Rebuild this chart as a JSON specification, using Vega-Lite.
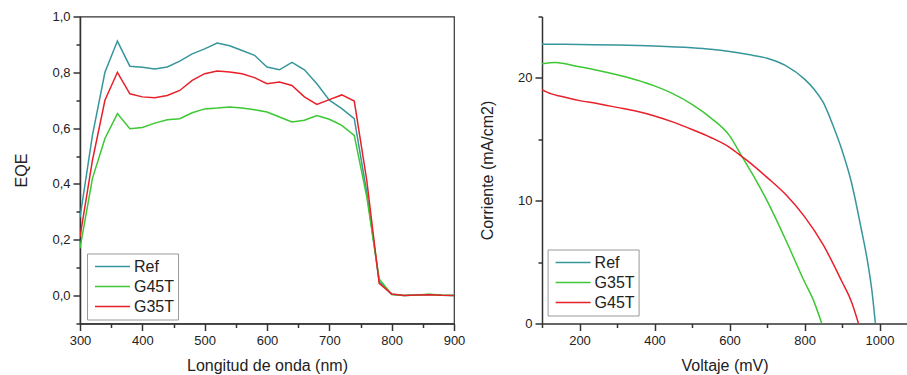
{
  "$schema": "https://vega.github.io/schema/vega-lite/v6.json",
  "autosize": {"type": "pad"},
  "padding": {"left": 13, "top": 9.5, "right": 0, "bottom": 0},
  "background": "white",
  "spacing": 88,
  "bounds": "flush",
  "datasets": {
    "eqe": [
      {"wl": 300, "Ref": 0.28, "G45T": 0.17, "G35T": 0.21},
      {"wl": 320, "Ref": 0.575, "G45T": 0.42, "G35T": 0.485},
      {"wl": 340, "Ref": 0.80, "G45T": 0.563, "G35T": 0.70},
      {"wl": 360, "Ref": 0.912, "G45T": 0.652, "G35T": 0.80},
      {"wl": 380, "Ref": 0.822, "G45T": 0.598, "G35T": 0.723},
      {"wl": 400, "Ref": 0.818, "G45T": 0.602, "G35T": 0.712},
      {"wl": 420, "Ref": 0.812, "G45T": 0.618, "G35T": 0.709},
      {"wl": 440, "Ref": 0.819, "G45T": 0.63, "G35T": 0.717},
      {"wl": 460, "Ref": 0.84, "G45T": 0.634, "G35T": 0.735},
      {"wl": 480, "Ref": 0.866, "G45T": 0.655, "G35T": 0.771},
      {"wl": 500, "Ref": 0.884, "G45T": 0.669, "G35T": 0.795},
      {"wl": 520, "Ref": 0.905, "G45T": 0.672, "G35T": 0.805},
      {"wl": 540, "Ref": 0.895, "G45T": 0.676, "G35T": 0.801},
      {"wl": 560, "Ref": 0.878, "G45T": 0.672, "G35T": 0.795},
      {"wl": 580, "Ref": 0.861, "G45T": 0.666, "G35T": 0.781},
      {"wl": 600, "Ref": 0.819, "G45T": 0.658, "G35T": 0.759},
      {"wl": 620, "Ref": 0.809, "G45T": 0.64, "G35T": 0.765},
      {"wl": 640, "Ref": 0.836, "G45T": 0.622, "G35T": 0.753},
      {"wl": 660, "Ref": 0.809, "G45T": 0.628, "G35T": 0.712},
      {"wl": 680, "Ref": 0.759, "G45T": 0.645, "G35T": 0.685},
      {"wl": 700, "Ref": 0.70, "G45T": 0.632, "G35T": 0.702},
      {"wl": 720, "Ref": 0.67, "G45T": 0.61, "G35T": 0.719},
      {"wl": 740, "Ref": 0.634, "G45T": 0.574, "G35T": 0.697},
      {"wl": 760, "Ref": 0.37, "G45T": 0.355, "G35T": 0.414},
      {"wl": 780, "Ref": 0.05, "G45T": 0.06, "G35T": 0.044},
      {"wl": 800, "Ref": 0.005, "G45T": 0.004, "G35T": 0.006},
      {"wl": 820, "Ref": 0.0, "G45T": 0.0, "G35T": 0.0},
      {"wl": 840, "Ref": 0.002, "G45T": 0.002, "G35T": 0.002},
      {"wl": 860, "Ref": 0.004, "G45T": 0.005, "G35T": 0.003},
      {"wl": 880, "Ref": 0.001, "G45T": 0.002, "G35T": 0.001},
      {"wl": 900, "Ref": 0.0, "G45T": 0.0, "G35T": 0.0}
    ],
    "jv": [
      {"s": "Ref", "v": 100, "j": 22.75},
      {"s": "Ref", "v": 200, "j": 22.72},
      {"s": "Ref", "v": 300, "j": 22.68},
      {"s": "Ref", "v": 400, "j": 22.6},
      {"s": "Ref", "v": 500, "j": 22.45},
      {"s": "Ref", "v": 550, "j": 22.33},
      {"s": "Ref", "v": 600, "j": 22.15},
      {"s": "Ref", "v": 650, "j": 21.9},
      {"s": "Ref", "v": 700, "j": 21.6},
      {"s": "Ref", "v": 750, "j": 21.0},
      {"s": "Ref", "v": 800, "j": 19.9},
      {"s": "Ref", "v": 825, "j": 19.1},
      {"s": "Ref", "v": 850, "j": 18.0},
      {"s": "Ref", "v": 875, "j": 16.2},
      {"s": "Ref", "v": 900, "j": 14.1},
      {"s": "Ref", "v": 925, "j": 11.5},
      {"s": "Ref", "v": 950, "j": 7.9},
      {"s": "Ref", "v": 970, "j": 4.7},
      {"s": "Ref", "v": 980, "j": 2.6},
      {"s": "Ref", "v": 989, "j": 0},
      {"s": "G35T", "v": 100, "j": 21.15},
      {"s": "G35T", "v": 135, "j": 21.25},
      {"s": "G35T", "v": 200, "j": 20.9},
      {"s": "G35T", "v": 250, "j": 20.6},
      {"s": "G35T", "v": 300, "j": 20.25},
      {"s": "G35T", "v": 350, "j": 19.85},
      {"s": "G35T", "v": 400, "j": 19.35},
      {"s": "G35T", "v": 450, "j": 18.7},
      {"s": "G35T", "v": 500, "j": 17.85},
      {"s": "G35T", "v": 550, "j": 16.75},
      {"s": "G35T", "v": 600, "j": 15.3},
      {"s": "G35T", "v": 633, "j": 13.6},
      {"s": "G35T", "v": 670, "j": 11.7},
      {"s": "G35T", "v": 700, "j": 10.0},
      {"s": "G35T", "v": 750, "j": 6.8},
      {"s": "G35T", "v": 800, "j": 3.4},
      {"s": "G35T", "v": 825, "j": 1.8},
      {"s": "G35T", "v": 846, "j": 0},
      {"s": "G45T", "v": 100, "j": 19.05},
      {"s": "G45T", "v": 125, "j": 18.7},
      {"s": "G45T", "v": 150, "j": 18.5},
      {"s": "G45T", "v": 200, "j": 18.15},
      {"s": "G45T", "v": 250, "j": 17.9},
      {"s": "G45T", "v": 300, "j": 17.6},
      {"s": "G45T", "v": 350, "j": 17.3},
      {"s": "G45T", "v": 400, "j": 16.9},
      {"s": "G45T", "v": 450, "j": 16.4},
      {"s": "G45T", "v": 500, "j": 15.8},
      {"s": "G45T", "v": 550, "j": 15.15},
      {"s": "G45T", "v": 600, "j": 14.35},
      {"s": "G45T", "v": 633, "j": 13.6},
      {"s": "G45T", "v": 650, "j": 13.2},
      {"s": "G45T", "v": 700, "j": 11.9},
      {"s": "G45T", "v": 750, "j": 10.5},
      {"s": "G45T", "v": 800, "j": 8.7},
      {"s": "G45T", "v": 850, "j": 6.4},
      {"s": "G45T", "v": 900, "j": 3.4},
      {"s": "G45T", "v": 925, "j": 1.8},
      {"s": "G45T", "v": 944, "j": 0}
    ]
  },
  "hconcat": [
    {
      "width": 374,
      "height": 307,
      "data": {"name": "eqe"},
      "transform": [{"fold": ["Ref", "G45T", "G35T"], "as": ["s", "eqe"]}],
      "mark": {"type": "line", "strokeWidth": 1.5, "clip": true},
      "encoding": {
        "x": {
          "field": "wl", "type": "quantitative",
          "scale": {"domain": [300, 900], "nice": false, "zero": false},
          "axis": {
            "title": "Longitud de onda (nm)",
            "values": [300, 350, 400, 450, 500, 550, 600, 650, 700, 750, 800, 850, 900],
            "labelExpr": "datum.value % 100 === 0 ? format(datum.value, 'd') : ''",
            "tickSize": {"condition": {"test": "datum.value % 100 === 0", "value": 7}, "value": 4},
            "labelPadding": 4,
            "titlePadding": 10
          }
        },
        "y": {
          "field": "eqe", "type": "quantitative",
          "scale": {"domain": [-0.1, 1.0], "nice": false, "zero": false},
          "axis": {
            "title": "EQE",
            "values": [-0.1, 0, 0.1, 0.2, 0.3, 0.4, 0.5, 0.6, 0.7, 0.8, 0.9, 1.0],
            "labelExpr": "abs(round(datum.value*10)) % 2 === 0 ? replace(format(datum.value, '.1f'), '.', ',') : ''",
            "tickSize": {"condition": {"test": "abs(round(datum.value*10)) % 2 === 0", "value": 7}, "value": 4},
            "titlePadding": 22
          }
        },
        "color": {
          "field": "s", "type": "nominal",
          "scale": {"domain": ["Ref", "G45T", "G35T"], "range": ["#36969c", "#3cc832", "#e8202a"]},
          "legend": {"orient": "none", "legendX": 7, "legendY": 237}
        }
      }
    },
    {
      "width": 365,
      "height": 307,
      "view": {"stroke": null},
      "layer": [
        {
          "data": {"name": "jv"},
          "mark": {"type": "line", "strokeWidth": 1.5, "interpolate": "monotone", "clip": true},
          "encoding": {
            "x": {
              "field": "v", "type": "quantitative",
              "scale": {"domain": [100, 1073.3], "nice": false, "zero": false},
              "axis": {
                "title": "Voltaje (mV)",
                "values": [100, 200, 300, 400, 500, 600, 700, 800, 900, 1000],
                "labelExpr": "datum.value % 200 === 0 ? format(datum.value, 'd') : ''",
                "tickSize": {"condition": {"test": "datum.value % 200 === 0", "value": 7}, "value": 4},
                "labelPadding": 4,
                "titlePadding": 10
              }
            },
            "y": {
              "field": "j", "type": "quantitative",
              "scale": {"domain": [0, 25], "nice": false},
              "axis": {
                "title": "Corriente (mA/cm2)",
                "values": [0, 5, 10, 15, 20, 25],
                "labelExpr": "datum.value % 10 === 0 ? format(datum.value, 'd') : ''",
                "tickSize": {"condition": {"test": "datum.value % 10 === 0", "value": 7}, "value": 4},
                "titlePadding": 22
              }
            },
            "color": {
              "field": "s", "type": "nominal",
              "scale": {"domain": ["Ref", "G35T", "G45T"], "range": ["#36969c", "#3cc832", "#e8202a"]},
              "legend": {"orient": "none", "legendX": 5.6, "legendY": 233}
            }
          }
        },
        {
          "mark": {"type": "rule", "color": "#333", "strokeWidth": 1.2},
          "encoding": {"y": {"datum": 25}}
        }
      ]
    }
  ],
  "resolve": {"scale": {"color": "independent"}, "legend": {"color": "independent"}},
  "config": {
    "font": "Liberation Sans",
    "view": {"stroke": "#333", "strokeWidth": 1.2},
    "axis": {
      "grid": false,
      "labelFlush": false,
      "labelOverlap": false,
      "domainColor": "#333",
      "domainWidth": 1.5,
      "tickColor": "#333",
      "tickWidth": 1.5,
      "labelFontSize": 13,
      "labelColor": "#222",
      "labelPadding": 3,
      "titleFontSize": 16,
      "titleFontWeight": "normal",
      "titleColor": "#222"
    },
    "legend": {
      "title": null,
      "symbolType": "stroke",
      "symbolSize": 1225,
      "symbolStrokeWidth": 1.5,
      "clipHeight": 20,
      "rowPadding": 0,
      "labelFontSize": 16,
      "labelColor": "#222",
      "labelOffset": 3,
      "padding": 3,
      "symbolOffset": 4,
      "strokeColor": "#999",
      "fillColor": "white"
    }
  }
}
